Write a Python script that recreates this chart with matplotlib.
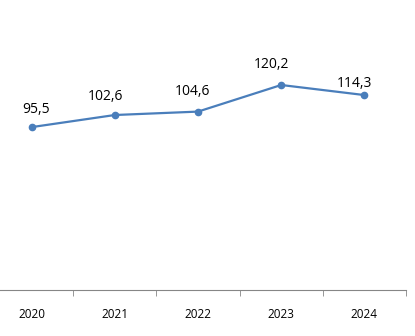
import numpy as np
import matplotlib
matplotlib.use('Agg')
from matplotlib import pyplot as plt

years = ['2020', '2021', '2022', '2023', '2024']
values = [95.5, 102.6, 104.6, 120.2, 114.3]
labels = ['95,5', '102,6', '104,6', '120,2', '114,3']
# label offsets in points, the way Excel placed them
label_dx = [3, -7, -4, -7, -7]
label_dy = [7, 8, 9, 9, 3]

plt.rcParams['font.family'] = ['Open Sans', 'DejaVu Sans']

fig = plt.figure(figsize=(4.15, 3.36), dpi=100)
ax = fig.add_axes([-10/415, 46/336, 416/415, 278/336])

x = np.arange(len(years))
ax.plot(x, values, color='#4a7ebb', lw=1.6, marker='o', ms=4.5)
for xi, v, t, dx, dy in zip(x, values, labels, label_dx, label_dy):
    ax.annotate(t, (xi, v), xytext=(dx, dy), textcoords='offset points',
                ha='center', va='bottom', fontsize=10)

ax.set_xlim(-0.5, len(years) - 0.5)
ax.set_ylim(0, 163)
ax.set_yticks([])
ax.set_xticks(x)
ax.set_xticklabels(years, fontsize=8.5)
ax.set_xticks(np.arange(len(years)) + 0.5, minor=True)
ax.tick_params(axis='x', which='major', length=0, pad=13)
ax.tick_params(axis='x', which='minor', length=4, color='#868686')
for s in ['top', 'right', 'left']:
    ax.spines[s].set_visible(False)
ax.spines['bottom'].set_color('#868686')

fig.savefig('out.png', dpi=100)
